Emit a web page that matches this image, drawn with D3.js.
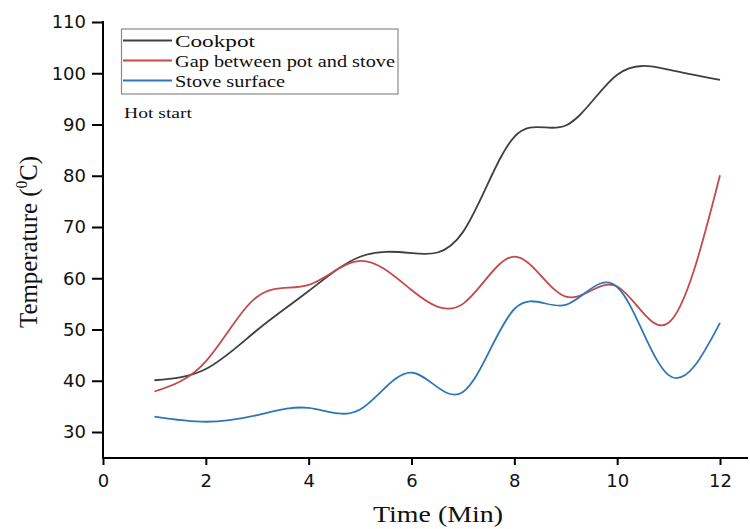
<!DOCTYPE html>
<html><head><meta charset="utf-8">
<script src="https://cdn.jsdelivr.net/npm/d3@7"></script>
<style>body{margin:0;background:#fff}</style>
</head><body><svg id="c" width="750" height="529"></svg>
<script>
const time = [1,2,3,4,5,6,7,8,9,10,11,12];
const cookpot = [40.1,42.3,49.9,57.5,64.2,64.9,69.0,87.6,89.8,99.7,100.7,98.7];
const gap = [37.9,43.8,56.4,58.7,63.4,57.7,55.0,64.2,56.4,58.4,51.3,80.1];
const stove = [33.0,32.0,33.3,34.7,34.4,41.6,37.8,54.0,54.8,58.3,41.1,51.3];
const xTicks = [0,2,4,6,8,10,12];
const yTicks = [30,40,50,60,70,80,90,100,110];
const seriesNames = ["Cookpot","Gap between pot and stove","Stove surface"];
const colors = ["#404040","#c44a4c","#2f77b5"];

const serif = "Liberation Serif, Times New Roman, serif";
const svg = d3.select("#c");
const x = d3.scaleLinear().domain([0,12]).range([103,720]);
const y = d3.scaleLinear().domain([30,110]).range([432,22]);
const xEnd = x.invert(748), yBottom = y.invert(458);

const g = svg.append("g");
g.append("line").attr("x1",x(0)-1).attr("x2",x(xEnd)).attr("y1",y(yBottom)).attr("y2",y(yBottom)).attr("stroke","#000").attr("stroke-width",2);
g.append("line").attr("x1",x(0)).attr("x2",x(0)).attr("y1",y(yBottom)).attr("y2",y(110)-1).attr("stroke","#000").attr("stroke-width",2);

const xa = g.append("g").attr("transform",`translate(0,${y(yBottom)})`)
  .call(d3.axisBottom(x).tickValues(xTicks).tickSize(7).tickPadding(9));
const ya = g.append("g").attr("transform",`translate(${x(0)},0)`)
  .call(d3.axisLeft(y).tickValues(yTicks).tickSize(11).tickPadding(6));
[xa,ya].forEach(a=>{
  a.select(".domain").remove();
  a.selectAll(".tick line").attr("stroke","#000").attr("stroke-width",2);
  a.selectAll(".tick text").attr("font-family","DejaVu Sans, sans-serif").attr("font-size",18).attr("fill","#111");
});

const line = d3.line().x((d,i)=>x(time[i])).y(d=>y(d)).curve(d3.curveNatural);
[cookpot,gap,stove].forEach((s,i)=>{
  g.append("path").attr("d",line(s)).attr("fill","none").attr("stroke",colors[i]).attr("stroke-width",1.8);
});

// legend
const legendWidths = [80,220,110];
const lg = svg.append("g");
lg.append("rect").attr("x",121.5).attr("y",29).attr("width",276.5).attr("height",65).attr("fill","#fff").attr("stroke","#8a8a8a").attr("stroke-width",1.2);
seriesNames.forEach((n,i)=>{
  const yy = 40.5 + i*20;
  lg.append("line").attr("x1",123).attr("x2",172).attr("y1",yy).attr("y2",yy).attr("stroke",colors[i]).attr("stroke-width",1.8);
  lg.append("text").attr("x",175).attr("y",yy+6.5).text(n).attr("font-family",serif).attr("font-size",16.5)
    .attr("textLength",legendWidths[i]).attr("lengthAdjust","spacingAndGlyphs").attr("fill","#111");
});
svg.append("text").attr("x",124).attr("y",118).text("Hot start").attr("font-family",serif).attr("font-size",15)
  .attr("textLength",68).attr("lengthAdjust","spacingAndGlyphs").attr("fill","#111");

// axis titles
svg.append("text").attr("x",373).attr("y",522).text("Time (Min)")
  .attr("font-family",serif).attr("font-size",23).attr("textLength",130).attr("lengthAdjust","spacingAndGlyphs").attr("fill","#111");
const yt = svg.append("text").attr("transform","translate(37,328) scale(1.12,1) rotate(-90)")
  .attr("font-family",serif).attr("font-size",22.5).attr("fill","#111")
  .attr("textLength",172).attr("lengthAdjust","spacingAndGlyphs");
yt.append("tspan").text("Temperature (");
yt.append("tspan").text("0").attr("font-size",14).attr("dy",-9);
yt.append("tspan").text("C)").attr("dy",9);
</script></body></html>
